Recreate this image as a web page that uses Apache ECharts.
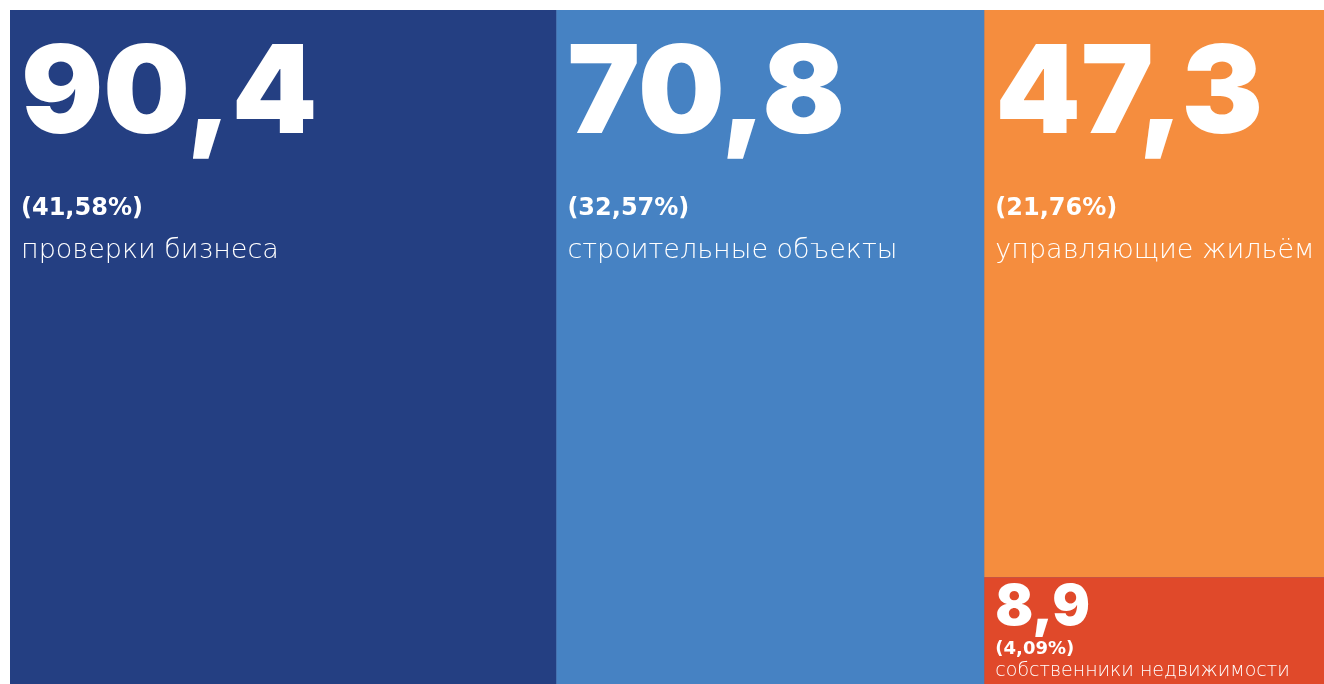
<!DOCTYPE html>
<html>
<head>
<meta charset="utf-8">
<script src="https://cdn.jsdelivr.net/npm/echarts@6/dist/echarts.min.js"></script>
<style>
  html, body { margin: 0; padding: 0; background: #ffffff; }
  #chart { width: 1324px; height: 684px; }
</style>
</head>
<body>
<div id="chart"></div>
<script>
// ---- data ----
const categories = ['проверки бизнеса', 'строительные объекты', 'управляющие жильём', 'собственники недвижимости'];
const values = [90.4, 70.8, 47.3, 8.9];

// ---- styles ----
const colors = ['#243F82', '#4682C3', '#F58D3E', '#E0492A'];
const NUM_FONT = 'Inter';
const TXT_FONT = '"DejaVu Sans"';

const total = values.reduce((a, b) => a + b, 0);
const fmt = (v, d) => v.toFixed(d).replace('.', ',');

const bigRich = {
  num: { fontFamily: NUM_FONT, fontWeight: 900, fontSize: 122, lineHeight: 130, color: '#fff' },
  sp: { fontSize: 1, lineHeight: 28 },
  pct: { fontFamily: TXT_FONT, fontWeight: 'bold', fontSize: 24, lineHeight: 40, color: '#fff' },
  cat: { fontFamily: TXT_FONT, fontWeight: 200, fontSize: 27, lineHeight: 43, color: '#fff' }
};
const smallRich = {
  num: { fontFamily: NUM_FONT, fontWeight: 900, fontSize: 56, lineHeight: 58, color: '#fff' },
  sp: { fontSize: 1, lineHeight: 1 },
  pct: { fontFamily: TXT_FONT, fontWeight: 'bold', fontSize: 18, lineHeight: 22, color: '#fff' },
  cat: { fontFamily: TXT_FONT, fontWeight: 200, fontSize: 19, lineHeight: 22, color: '#fff' }
};

const labelText = (name, v) =>
  '{num|' + fmt(v, 1) + '}\n{sp| }\n{pct|(' + fmt(v / total * 100, 2) + '%)}\n{cat|' + name + '}';

function draw() {
  const data = categories.map((name, i) => {
    const small = values[i] / total < 0.08;
    return {
      name: name,
      value: values[i],
      itemStyle: { color: colors[i] },
      label: {
        padding: small ? [2, 0, 0, 11] : [21, 0, 0, 11],
        rich: small ? smallRich : bigRich
      }
    };
  });

  const chart = echarts.init(document.getElementById('chart'), null, { renderer: 'canvas' });
  chart.setOption({
    animation: false,
    backgroundColor: '#ffffff',
    tooltip: { show: false },
    series: [{
      type: 'treemap',
      left: 10, top: 10, right: 0, bottom: 0,
      roam: false,
      nodeClick: false,
      squareRatio: 1,
      breadcrumb: { show: false },
      itemStyle: { borderWidth: 0, gapWidth: 0, borderColor: '#5a6fa0' },
      label: {
        show: true,
        position: 'insideTopLeft',
        overflow: 'none',
        formatter: (p) => labelText(p.name, p.value)
      },
      upperLabel: { show: false },
      data: data
    }]
  });
}

const loads = [
  '900 122px Inter', '900 56px Inter',
  'bold 24px "DejaVu Sans"', '200 27px "DejaVu Sans"'
].map((f) => (document.fonts && document.fonts.load) ? document.fonts.load(f, '0123456789,').catch(() => null) : Promise.resolve());
Promise.all(loads).then(draw, draw);
</script>
</body>
</html>
